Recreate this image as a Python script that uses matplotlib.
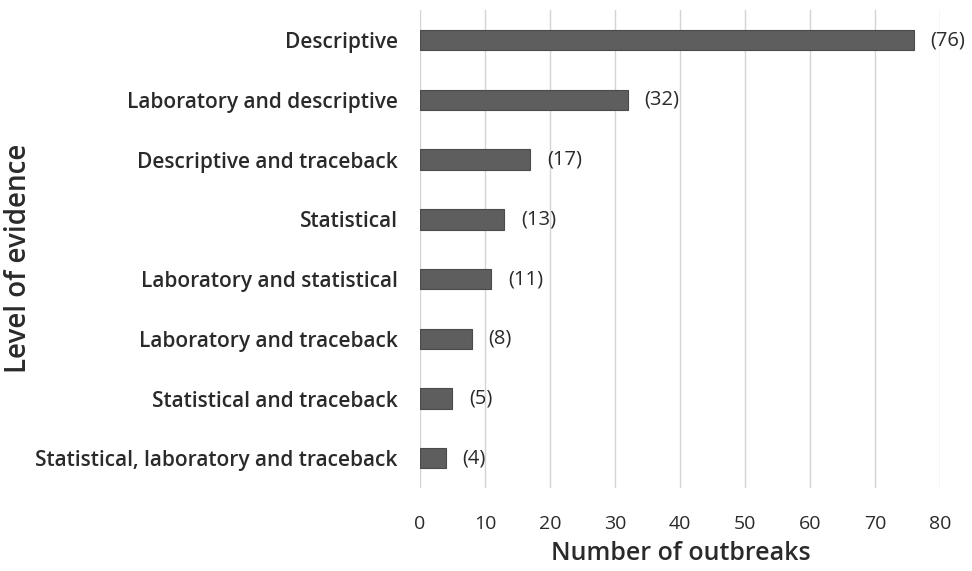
import numpy as np
import matplotlib.pyplot as plt

# Level of evidence vs number of outbreaks
categories = ['Descriptive', 'Laboratory and descriptive', 'Descriptive and traceback',
              'Statistical', 'Laboratory and statistical', 'Laboratory and traceback',
              'Statistical and traceback', 'Statistical, laboratory and traceback']
outbreaks = [76, 32, 17, 13, 11, 8, 5, 4]
xticks = [0, 10, 20, 30, 40, 50, 60, 70, 80]

plt.rcParams['font.family'] = ['Open Sans', 'DejaVu Sans']
txt = '#2a2a2a'

fig = plt.figure(figsize=(9.72, 5.71), dpi=100)
ax = fig.add_axes([0.432, 0.145, 0.535, 0.837])

y = np.arange(len(categories))
ax.barh(y, outbreaks, height=0.34, color='#5e5e5e', edgecolor='#4a4a4a', linewidth=0.8, zorder=3)

for yi, v in zip(y, outbreaks):
    ax.annotate('(%d)' % v, xy=(v, yi), xytext=(12, 0), textcoords='offset points',
                va='center', ha='left', fontsize=14.5, color=txt, annotation_clip=False)

ax.set_ylim(len(categories) - 0.5, -0.5)
ax.set_xlim(0, 80)
ax.set_xticks(xticks)
ax.set_yticks(y)
ax.set_yticklabels(categories, fontsize=15, fontweight='semibold', color=txt)
ax.tick_params(axis='x', labelsize=14, colors=txt, length=0, pad=19)
ax.tick_params(axis='y', length=0, pad=16)
ax.grid(axis='x', color='#d4d4d4', linewidth=1.0, zorder=0)
for s in ax.spines.values():
    s.set_visible(False)

fig.text(0.70, 0.031, 'Number of outbreaks', fontsize=18, fontweight='semibold',
         color=txt, ha='center', va='center')
fig.text(0.019, 0.548, 'Level of evidence', rotation=90, fontsize=20, fontweight='semibold',
         color=txt, ha='center', va='center')

fig.savefig('out.png', dpi=100)
